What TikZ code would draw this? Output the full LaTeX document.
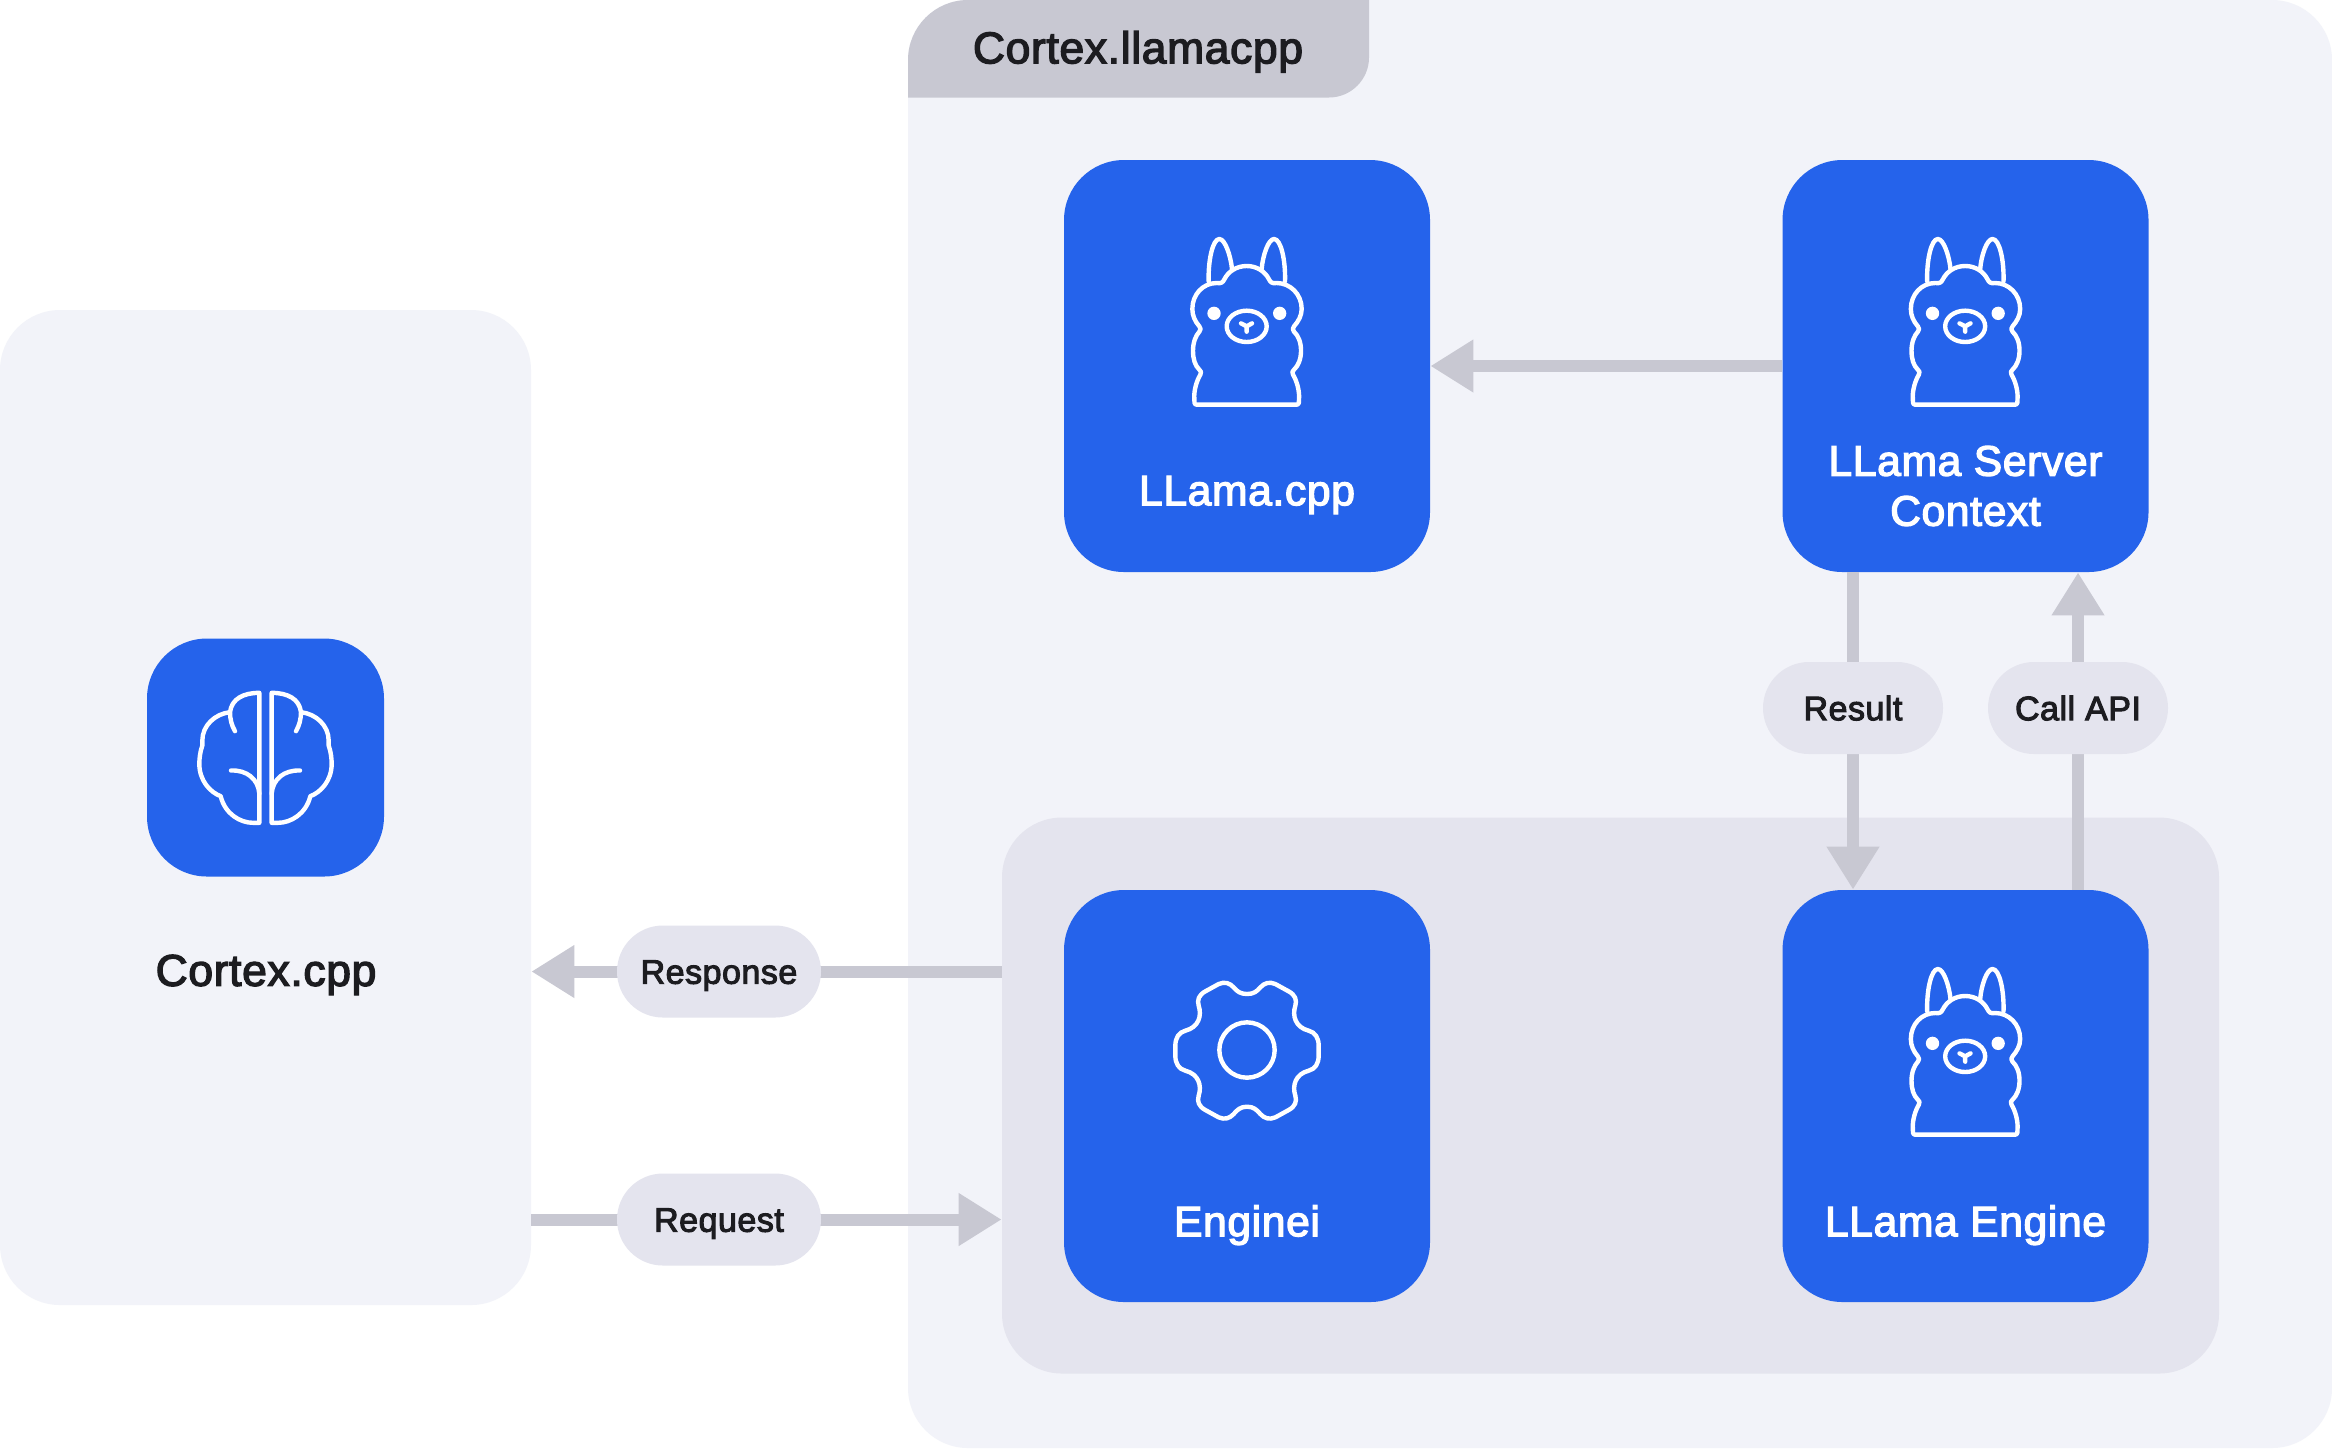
\documentclass[tikz,border=0pt]{standalone}
\usepackage{fontspec}
\setmainfont{Liberation Sans}
\newfontfamily\medfont[FakeBold=3,LetterSpace=1.5]{Liberation Sans}
\usetikzlibrary{arrows.meta}
\definecolor{panelc}{HTML}{F2F3F9}
\definecolor{innerc}{HTML}{E4E4EE}
\definecolor{linec}{HTML}{C8C8D2}
\definecolor{bluec}{HTML}{2563EB}
\definecolor{inkc}{HTML}{1C1C20}
\tikzset{
  panelbox/.style={rectangle,inner sep=0pt,fill=#1,rounded corners=30pt},
  bluebox/.style={rectangle,inner sep=0pt,fill=bluec,rounded corners=30pt},
  pill/.style={rectangle,inner sep=0pt,fill=innerc,rounded corners=23pt,minimum height=46pt,text=inkc,text height=12.2pt,text depth=0pt,font=\medfont\fontsize{17}{20}\selectfont},
  bluelabel/.style={inner sep=0pt,text=white,text height=15.2pt,text depth=0pt,font=\medfont\fontsize{21.3}{25}\selectfont},
  bluelines/.style={inner sep=0pt,text=white,align=center,font=\medfont\fontsize{21.3}{25}\selectfont},
  darklabel/.style={inner sep=0pt,text=inkc,text height=15.8pt,text depth=0pt,font=\medfont\fontsize{22.2}{25}\selectfont},
  flow/.style={draw=linec,line width=6pt,-{Triangle[length=21.5pt,width=25pt,color=linec]}},
  iconline/.style={draw=white,line width=2.2pt,line cap=round,line join=round},
  llama/.pic={
    \begin{scope}[x=0.16667pt,y=-0.16667pt,shift={(-441,-616)}]
      \draw[iconline] (290,732) .. controls (282,732) and (283,722) .. (283,715)
        .. controls (281,690) and (290,660) .. (301,642)
        .. controls (305,635) and (303,631) .. (298,627)
        .. controls (285,615) and (279,595) .. (279,570)
        .. controls (279,545) and (287,525) .. (298,513)
        .. controls (303,507) and (303,503) .. (298,497)
        .. controls (285,482) and (277,465) .. (277,445)
        .. controls (277,400) and (310,367) .. (350,367)
        .. controls (365,369) and (368,365) .. (373,356)
        .. controls (385,332) and (410,316) .. (440,316)
        .. controls (470,316) and (495,332) .. (507,356)
        .. controls (512,365) and (515,369) .. (530,367)
        .. controls (570,367) and (605,400) .. (605,445)
        .. controls (605,465) and (595,482) .. (582,497)
        .. controls (577,503) and (577,507) .. (582,513)
        .. controls (595,525) and (603,545) .. (603,570)
        .. controls (603,595) and (595,615) .. (582,627)
        .. controls (577,631) and (575,635) .. (579,642)
        .. controls (590,660) and (599,690) .. (597,715)
        .. controls (597,722) and (598,732) .. (590,732) -- cycle;
      \draw[iconline] (326,362) .. controls (324,300) and (338,235) .. (358,235)
        .. controls (375,235) and (392,285) .. (396,325);
      \draw[iconline] (555,362) .. controls (557,300) and (543,235) .. (522,235)
        .. controls (505,235) and (488,285) .. (485,325);
      \fill[white] (342,458) circle[radius=20];
      \fill[white] (539,458) circle[radius=20];
      \draw[iconline] (440,497) ellipse[x radius=60,y radius=47];
      \draw[iconline] (423,488) -- (440,497) -- (456,488) (440,497) -- (440,513);
    \end{scope}
  },
  brainhalf/.pic={
    \begin{scope}[x=0.16667pt,y=-0.16667pt,shift={(-406.5,-381)}]
      \draw[iconline] (388,187) .. controls (340,187) and (305,205) .. (300,245)
        .. controls (255,250) and (217,285) .. (217,330)
        -- (217,345) .. controls (210,365) and (208,385) .. (208,400)
        .. controls (208,450) and (240,485) .. (272,497)
        .. controls (285,550) and (330,577) .. (370,577) -- (388,577) -- cycle;
      \draw[iconline] (300,245) .. controls (300,265) and (305,285) .. (315,302);
      \draw[iconline] (303,420) .. controls (350,418) and (385,445) .. (388,490);
    \end{scope}
  },
  gear/.pic={
    \begin{scope}[x=0.16667pt,y=-0.16667pt,shift={(-350,-436)}]
      \draw[iconline] (350,130) .. controls (330,130) and (320,122) .. (310,110)
        .. controls (298,97) and (283,92) .. (265,100) -- (225,122)
        .. controls (205,133) and (200,148) .. (205,165)
        .. controls (215,195) and (205,230) .. (165,240)
        .. controls (145,245) and (135,262) .. (135,285) -- (135,315)
        .. controls (135,338) and (145,355) .. (165,360)
        .. controls (205,370) and (215,405) .. (205,435)
        .. controls (200,452) and (205,467) .. (225,478) -- (265,500)
        .. controls (283,508) and (298,503) .. (310,490)
        .. controls (320,478) and (330,468) .. (350,468)
        .. controls (370,468) and (380,478) .. (390,490)
        .. controls (402,503) and (417,508) .. (435,500) -- (475,478)
        .. controls (495,467) and (500,452) .. (495,435)
        .. controls (485,405) and (495,370) .. (535,360)
        .. controls (555,355) and (565,338) .. (565,315) -- (565,285)
        .. controls (565,262) and (555,245) .. (535,240)
        .. controls (495,230) and (485,195) .. (495,165)
        .. controls (500,148) and (495,133) .. (475,122) -- (435,100)
        .. controls (417,92) and (402,97) .. (390,110)
        .. controls (380,122) and (370,130) .. (350,130) -- cycle;
      \draw[iconline] (350,298) circle[radius=83];
    \end{scope}
  }
}
\begin{document}
\begin{tikzpicture}[x=0.5pt,y=-0.5pt]
\useasboundingbox (0,0) rectangle (2332,1448);
\fill[white] (0,0) rectangle (2332,1448);
% panels
\node[panelbox=panelc,minimum width=712pt,minimum height=724pt] (outer) at (1620,724) {};
\fill[linec] (908,97.5) -- (908,60) .. controls (908,26.9) and (934.9,0) .. (968,0)
  -- (1369,0) -- (1369,57.5) .. controls (1369,79.5) and (1351,97.5) .. (1329,97.5) -- cycle;
\node[darklabel] (tabtext) at (1138,47.5) {Cortex.llamacpp};
\node[panelbox=panelc,minimum width=265.5pt,minimum height=497.5pt] (left) at (265.5,807.5) {};
\node[panelbox=innerc,minimum width=608.5pt,minimum height=278pt] (inner) at (1610.5,1095.5) {};
% blue boxes
\node[bluebox,minimum width=183pt,minimum height=206pt] (cpp) at (1247,366) {};
\node[bluebox,minimum width=183pt,minimum height=206pt] (server) at (1965.5,366) {};
\node[bluebox,minimum width=183pt,minimum height=206pt] (enginei) at (1247,1096) {};
\node[bluebox,minimum width=183pt,minimum height=206pt] (engine) at (1965.5,1096) {};
\node[bluebox,minimum width=118.5pt,minimum height=119pt] (brain) at (265.5,757.5) {};
% pill positions
\coordinate (resultc) at (1853,708);
\coordinate (callc) at (2078,708);
\coordinate (respc) at (719,971.5);
\coordinate (reqc) at (719,1219.5);
% connectors
\draw[flow] (server.west) -- (cpp.east);
\draw[flow] (server.south -| resultc) -- (engine.north -| resultc);
\draw[flow] (engine.north -| callc) -- (server.south -| callc);
\draw[flow] (inner.west |- respc) -- (left.east |- respc);
\draw[flow] (left.east |- reqc) -- (inner.west |- reqc);
\node[pill,minimum width=90pt] (result) at (resultc) {Result};
\node[pill,minimum width=90pt] (call) at (callc) {Call API};
\node[pill,minimum width=102pt] (resp) at (respc) {Response};
\node[pill,minimum width=102pt] (req) at (reqc) {Request};
% icons
\pic at (cpp.center) {llama};
\pic at (server.center) {llama};
\pic at (engine.center) {llama};
\pic at (enginei.center) {gear};
\pic at (brain.center) {brainhalf};
\pic[xscale=-1] at (brain.center) {brainhalf};
% labels
\node[bluelabel] (l1) at (1247,490) {LLama.cpp};
\node[bluelines] (l2) at (1965.5,486) {LLama Server\\Context};
\node[bluelabel] (l3) at (1247,1221) {Enginei};
\node[bluelabel] (l4) at (1965.5,1221) {LLama Engine};
\node[darklabel] (l5) at (266,970) {Cortex.cpp};
\end{tikzpicture}
\end{document}
